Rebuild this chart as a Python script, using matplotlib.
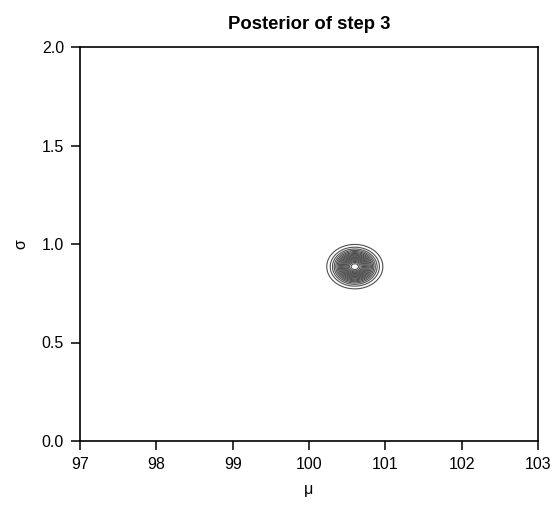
import numpy as np
import matplotlib
matplotlib.use('Agg')
import matplotlib.pyplot as plt

plt.rcParams['font.family'] = ['Liberation Sans', 'DejaVu Sans']

# posterior summary
mu_center = 100.6
sigma_center = 0.885
mu_sd = 0.15
sigma_sd = 0.046

# grid approximation
mu_grid = np.linspace(97, 103, 601)
sigma_grid = np.linspace(0, 2, 401)
M, S = np.meshgrid(mu_grid, sigma_grid)
post = np.exp(-0.5 * (((M - mu_center) / mu_sd) ** 2 + ((S - sigma_center) / sigma_sd) ** 2))
post = post / post.sum()

xticks = [97, 98, 99, 100, 101, 102, 103]
yticks = [0.0, 0.5, 1.0, 1.5, 2.0]

fig = plt.figure(figsize=(5.56, 5.21), dpi=100)
ax = fig.add_axes([80 / 556, 1 - 441 / 521, 458 / 556, 394 / 521])

levels = np.linspace(0.05, 0.95, 19) * post.max()
ax.contour(M, S, post, levels=levels, colors='#505050', linewidths=0.8)

ax.set_xlim(97, 103)
ax.set_ylim(0, 2)
ax.set_xticks(xticks)
ax.set_xticklabels([str(t) for t in xticks])
ax.set_yticks(yticks)
ax.set_yticklabels(['%.1f' % t for t in yticks])
ax.tick_params(direction='out', length=6.5, width=1.1, labelsize=11.5, pad=5)
for sp in ax.spines.values():
    sp.set_linewidth(1.2)

ax.set_title('Posterior of step 3', fontsize=13.3, fontweight='bold', pad=13)
ax.set_xlabel('μ', fontsize=11.5, labelpad=7)
ax.set_ylabel('σ', fontsize=11.5, labelpad=10)

fig.savefig('out.png', dpi=100)
